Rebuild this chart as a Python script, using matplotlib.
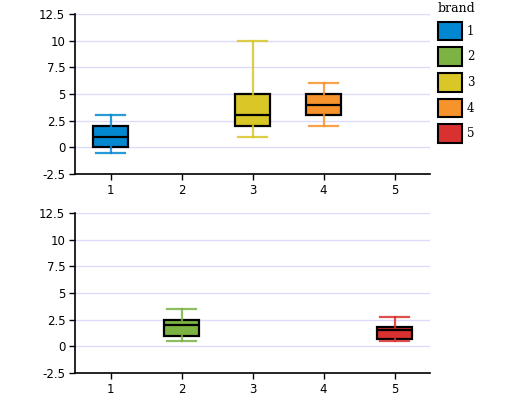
import matplotlib
matplotlib.use('Agg')
import matplotlib.pyplot as plt
from matplotlib.patches import Patch

# Box statistics, one entry per brand
brands = [1, 2, 3, 4, 5]
panel = [0, 1, 0, 0, 1]          # 0 = top plot, 1 = bottom plot
whis_low = [-0.5, 0.5, 1, 2, 0.5]
q1 = [0, 1, 2, 3, 0.7]
median = [1, 2, 3, 4, 1.5]
q3 = [2, 2.5, 5, 5, 1.8]
whis_high = [3, 3.5, 10, 6, 2.75]

colors = ['#0288d1', '#7cb342', '#d9c627', '#f7932b', '#d83130']
y_ticks = [-2.5, 0, 2.5, 5, 7.5, 10, 12.5]
y_tick_labels = ['-2.5', '0', '2.5', '5', '7.5', '10', '12.5']

fig = plt.figure(figsize=(5.12, 4), dpi=100)
ax_top = fig.add_axes([0.1465, 0.565, 0.6934, 0.4])
ax_bot = fig.add_axes([0.1465, 0.0675, 0.6934, 0.4])
axes = [ax_top, ax_bot]

for ax in axes:
    ax.set_xlim(0.5, 5.5)
    ax.set_ylim(-2.5, 12.5)
    ax.set_yticks(y_ticks)
    ax.set_yticklabels(y_tick_labels)
    ax.set_xticks(brands)
    ax.set_xticklabels([str(b) for b in brands])
    ax.yaxis.grid(True, color='#dcdcfa', linewidth=1)
    ax.set_axisbelow(True)
    ax.spines['top'].set_visible(False)
    ax.spines['right'].set_visible(False)
    ax.spines['left'].set_linewidth(1.2)
    ax.spines['bottom'].set_linewidth(1.2)
    ax.tick_params(labelsize=8.5, length=4, width=1, direction='out', pad=3)

# draw each brand's box in its panel
for i, b in enumerate(brands):
    ax = axes[panel[i]]
    stats = [{'whislo': whis_low[i], 'q1': q1[i], 'med': median[i],
              'q3': q3[i], 'whishi': whis_high[i], 'fliers': []}]
    ax.bxp(stats, positions=[b], widths=0.5, patch_artist=True,
           showfliers=False, manage_ticks=False,
           boxprops=dict(facecolor=colors[i], edgecolor='black', linewidth=1.6),
           medianprops=dict(color='black', linewidth=1.6),
           whiskerprops=dict(color=colors[i], linewidth=1.6, alpha=0.85),
           capprops=dict(color=colors[i], linewidth=1.6, alpha=0.85),
           capwidths=0.4)

# legend on the right
handles = [Patch(facecolor=c, edgecolor='black', linewidth=1.5) for c in colors]
leg = fig.legend(handles, [str(b) for b in brands], title='brand',
                 loc='upper left', bbox_to_anchor=(0.846, 1.008),
                 frameon=False, handlelength=2.05, handleheight=2.05,
                 handletextpad=0.4, labelspacing=0.6, borderaxespad=0,
                 prop={'family': 'DejaVu Serif', 'size': 8.5},
                 title_fontproperties={'family': 'DejaVu Serif', 'size': 9})
leg._legend_box.align = 'left'

fig.savefig('out.png', dpi=100)
